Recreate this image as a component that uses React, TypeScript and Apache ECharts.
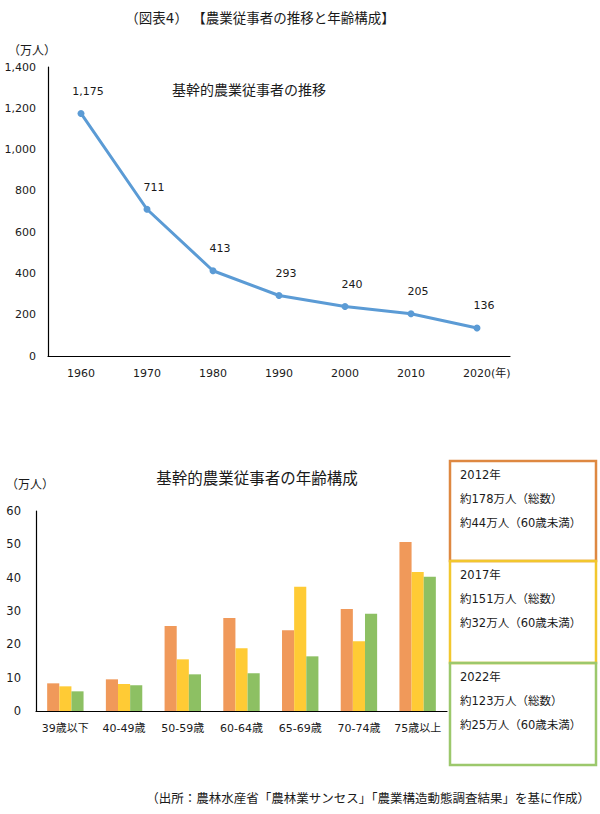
import React, { useEffect, useRef } from "react";
import * as echarts from "echarts";

const years = ["1960", "1970", "1980", "1990", "2000", "2010", "2020"];
const workers = [1175, 711, 413, 293, 240, 205, 136];

const ageGroups = ["39歳以下", "40-49歳", "50-59歳", "60-64歳", "65-69歳", "70-74歳", "75歳以上"];
const v2012 = [8.3, 9.5, 25.5, 27.9, 24.2, 30.6, 50.7];
const v2017 = [7.4, 8.1, 15.5, 18.8, 37.3, 20.9, 41.7];
const v2022 = [5.9, 7.7, 11.0, 11.3, 16.4, 29.2, 40.3];

const boxYears = ["2012年", "2017年", "2022年"];
const boxTotals = ["約178万人（総数）", "約151万人（総数）", "約123万人（総数）"];
const boxUnder60 = ["約44万人（60歳未満）", "約32万人（60歳未満）", "約25万人（60歳未満）"];

const FONT = "'DejaVu Sans', 'Noto Sans CJK JP', sans-serif";
const TXT = "#1a1a1a";
const barColors = ["#F0995A", "#FFCB35", "#8DC063"];
const boxColors = ["#DE8841", "#F2C72E", "#9CC86C"];

function fmt(v: number) {
  return v.toLocaleString("en-US");
}

export default function App() {
  const ref = useRef<HTMLDivElement>(null);
  useEffect(() => {
    if (!ref.current) return;
    const chart = echarts.init(ref.current, undefined, { renderer: "svg" });

    const text = (t: string, x: number, y: number, size: number, align = "left") => ({
      type: "text",
      x,
      y,
      style: { text: t, fontSize: size, fontFamily: FONT, fill: TXT, align, verticalAlign: "middle" },
    });

    const graphics: any[] = [
      text("（図表4） 【農業従事者の推移と年齢構成】", 260, 18, 13.5, "center"),
      text("（万人）", 8, 51, 12),
      text("基幹的農業従事者の推移", 249, 90, 14, "center"),
      text("(年)", 491, 373, 11),
      text("（万人）", 6, 485, 12),
      text("基幹的農業従事者の年齢構成", 257, 479, 15.5, "center"),
      text("（出所：農林水産省「農林業サンセス」「農業構造動態調査結果」を基に作成）", 590, 798, 12.5, "right"),
    ];
    const boxTops = [461, 561, 663];
    const boxBottoms = [561, 663, 765];
    boxTops.forEach((top, i) => {
      graphics.push({
        type: "rect",
        shape: { x: 450, y: top, width: 146, height: boxBottoms[i] - top },
        style: { fill: "none", stroke: boxColors[i], lineWidth: 2.5 },
        z: 10,
      });
      graphics.push(text(boxYears[i], 460, top + 14, 11.5));
      graphics.push(text(boxTotals[i], 460, top + 38, 11.5));
      graphics.push(text(boxUnder60[i], 460, top + 62, 11.5));
    });

    chart.setOption({
      animation: false,
      backgroundColor: "#ffffff",
      textStyle: { fontFamily: FONT },
      graphic: graphics,
      grid: [
        { left: 48, top: 67, width: 462, height: 289 },
        { left: 36, top: 511, width: 411, height: 200 },
      ],
      xAxis: [
        {
          gridIndex: 0,
          type: "category",
          data: years,
          axisLine: { lineStyle: { color: "#000", width: 1.2 } },
          axisTick: { show: false },
          axisLabel: { color: TXT, fontSize: 11, margin: 12, fontFamily: FONT },
        },
        {
          gridIndex: 1,
          type: "category",
          data: ageGroups,
          axisLine: { lineStyle: { color: "#000", width: 1.2 } },
          axisTick: { show: false },
          axisLabel: { color: TXT, fontSize: 11, margin: 12, interval: 0, fontFamily: FONT },
        },
      ],
      yAxis: [
        {
          gridIndex: 0,
          type: "value",
          min: 0,
          max: 1400,
          interval: 200,
          axisLine: { show: true, lineStyle: { color: "#000", width: 1.2 } },
          axisTick: { show: false },
          splitLine: { show: false },
          axisLabel: { color: TXT, fontSize: 11, margin: 12, formatter: (v: number) => fmt(v), fontFamily: FONT },
        },
        {
          gridIndex: 1,
          type: "value",
          min: 0,
          max: 60,
          interval: 10,
          axisLine: { show: true, lineStyle: { color: "#000", width: 1.2 } },
          axisTick: { show: false },
          splitLine: { show: false },
          axisLabel: { color: TXT, fontSize: 11.5, margin: 15, fontFamily: FONT },
        },
      ],
      series: [
        {
          type: "line",
          xAxisIndex: 0,
          yAxisIndex: 0,
          data: workers,
          symbol: "circle",
          symbolSize: 7,
          lineStyle: { color: "#5B9BD5", width: 3 },
          itemStyle: { color: "#5B9BD5" },
          label: {
            show: true,
            position: "top",
            distance: 8,
            offset: [7, -5],
            color: TXT,
            fontSize: 11,
            fontFamily: FONT,
            formatter: (p: any) => fmt(p.value),
          },
        },
        {
          type: "bar",
          name: "2012",
          xAxisIndex: 1,
          yAxisIndex: 1,
          data: v2012,
          itemStyle: { color: barColors[0] },
          barGap: "0%",
          barCategoryGap: "38%",
        },
        {
          type: "bar",
          name: "2017",
          xAxisIndex: 1,
          yAxisIndex: 1,
          data: v2017,
          itemStyle: { color: barColors[1] },
          barGap: "0%",
          barCategoryGap: "38%",
        },
        {
          type: "bar",
          name: "2022",
          xAxisIndex: 1,
          yAxisIndex: 1,
          data: v2022,
          itemStyle: { color: barColors[2] },
          barGap: "0%",
          barCategoryGap: "38%",
        },
      ],
    });
    return () => chart.dispose();
  }, []);

  return (
    <div
      ref={ref}
      style={{ position: "absolute", left: 0, top: 0, width: 600, height: 814, background: "#fff" }}
    />
  );
}
